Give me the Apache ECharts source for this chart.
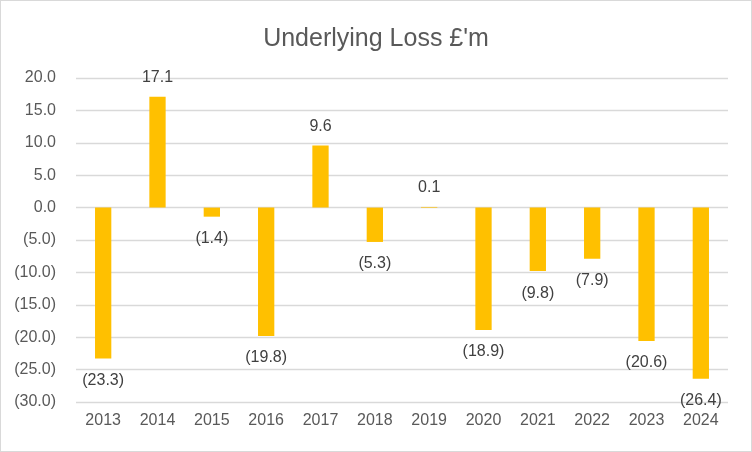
<!DOCTYPE html>
<html>
<head>
<meta charset="utf-8">
<script src="https://cdn.jsdelivr.net/npm/echarts@6/dist/echarts.min.js"></script>
<style>
html,body{margin:0;padding:0;background:#fff;}
#c{width:752px;height:452px;box-sizing:border-box;border:1.5px solid #d9d9d9;}
</style>
</head>
<body>
<div id="c"></div>
<script>
const years = ['2013','2014','2015','2016','2017','2018','2019','2020','2021','2022','2023','2024'];
const loss = [-23.3, 17.1, -1.4, -19.8, 9.6, -5.3, 0.1, -18.9, -9.8, -7.9, -20.6, -26.4];
const yTicks = {min: -30, max: 20, interval: 5};

function fmt(v){
  const s = Math.abs(v).toFixed(1);
  return v < 0 ? '(' + s + ')' : s;
}

const chart = echarts.init(document.getElementById('c'));
chart.setOption({
  animation: false,
  title: {
    text: "Underlying Loss £'m",
    left: 'center',
    top: 21,
    textStyle: {fontFamily: 'Liberation Sans', fontSize: 25, fontWeight: 'normal', color: '#595959'}
  },
  grid: {left: 75, right: 23, top: 77, bottom: 49},
  xAxis: {
    type: 'category',
    data: years,
    axisLine: {show: false},
    axisTick: {show: false},
    axisLabel: {color: '#595959', fontFamily: 'Liberation Sans', fontSize: 16, margin: 11}
  },
  yAxis: {
    type: 'value',
    min: yTicks.min, max: yTicks.max, interval: yTicks.interval,
    axisLine: {show: false},
    axisTick: {show: false},
    splitLine: {lineStyle: {color: '#d9d9d9', width: 1.3}},
    axisLabel: {color: '#595959', fontFamily: 'Liberation Sans', fontSize: 16, margin: 20, formatter: fmt}
  },
  series: [{
    type: 'bar',
    data: loss.map(v => ({
      value: v,
      label: {position: v < 0 ? 'bottom' : 'top', distance: v < 0 ? 14 : 11}
    })),
    barWidth: '30%',
    itemStyle: {color: '#FFC000'},
    label: {
      show: true,
      color: '#404040',
      fontFamily: 'Liberation Sans',
      fontSize: 16,
      formatter: p => fmt(p.value)
    }
  }]
});
</script>
</body>
</html>
